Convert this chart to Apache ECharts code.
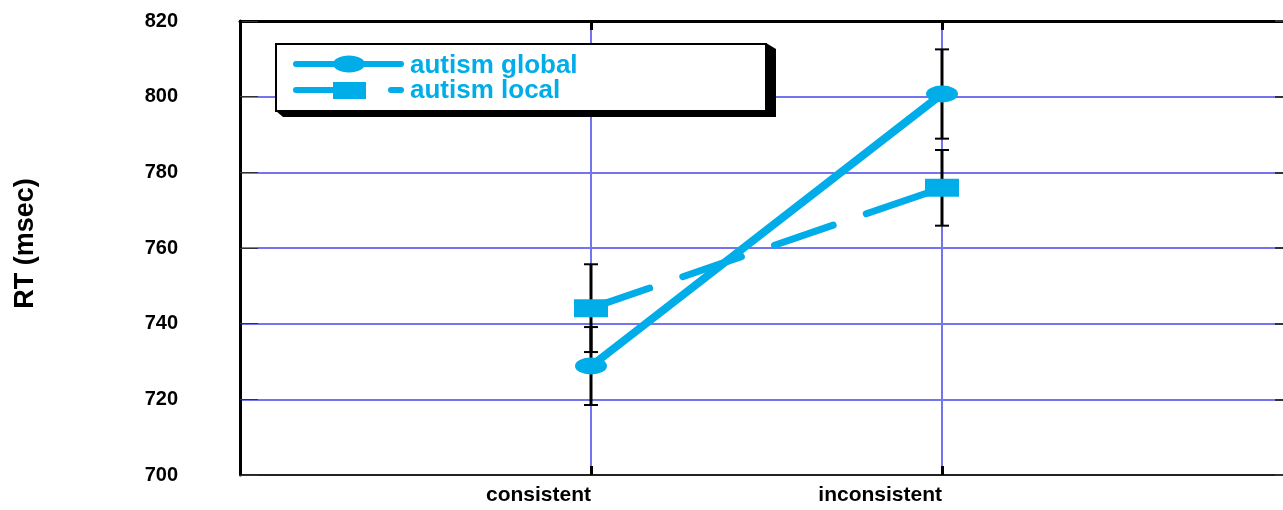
<!DOCTYPE html>
<html>
<head>
<meta charset="utf-8">
<script src="https://cdn.jsdelivr.net/npm/echarts@6/dist/echarts.min.js"></script>
<style>
	html, body { margin: 0; padding: 0; background: #fff; }
	#main { width: 1283px; height: 510px; }
</style>
</head>
<body>
<div id="main"></div>
<script>
// data
const conditions = ['consistent', 'inconsistent'];
const globalRT = [728.8, 800.7];
const globalErr = [10.3, 11.8];
const localRT = [744.1, 775.9];
const localErr = [11.6, 10.0];
const yMin = 700, yMax = 820, yStep = 20;

const CYAN = '#00ade9';
const GRID_BLUE = '#7474ee';
const FONT = 'Arial, "Liberation Sans", sans-serif';

// condition i sits at x = i + 1 on a 0..3 value axis
function points(values) {
	return values.map((v, i) => [i + 1, v]);
}
function errRows(values, errs) {
	return values.map((v, i) => [i + 1, v - errs[i], v + errs[i]]);
}

function renderErrorBar(params, api) {
	const x = api.value(0);
	const low = api.coord([x, api.value(1)]);
	const high = api.coord([x, api.value(2)]);
	const half = 7;
	return {
		type: 'group',
		children: [
			{ type: 'line', shape: { x1: low[0], y1: low[1], x2: high[0], y2: high[1] }, style: { stroke: '#000', lineWidth: 3 } },
			{ type: 'line', shape: { x1: low[0] - half, y1: low[1], x2: low[0] + half, y2: low[1] }, style: { stroke: '#000', lineWidth: 2 } },
			{ type: 'line', shape: { x1: high[0] - half, y1: high[1], x2: high[0] + half, y2: high[1] }, style: { stroke: '#000', lineWidth: 2 } }
		]
	};
}

const chart = echarts.init(document.getElementById('main'));

chart.setOption({
	animation: false,
	// plot runs past the right edge of the canvas, like the original
	grid: { left: 240, top: 21, width: 1053, height: 454, outerBoundsMode: 'none', containLabel: false },
	xAxis: [{
		type: 'value',
		min: 0, max: 3, interval: 1,
		position: 'bottom',
		axisLine: { show: true, onZero: false, lineStyle: { color: '#222', width: 2 } },
		axisTick: { show: true, inside: true, length: 9, lineStyle: { color: '#000', width: 3 } },
		axisLabel: {
			formatter: v => conditions[v - 1] || '',
			align: 'right',
			margin: 10,
			color: '#000',
			fontFamily: FONT,
			fontWeight: 'bold',
			fontSize: 21
		},
		splitLine: { show: true, lineStyle: { color: GRID_BLUE, width: 2 } }
	}, {
		type: 'value',
		min: 0, max: 3, interval: 1,
		position: 'top',
		axisLine: { show: true, onZero: false, lineStyle: { color: '#000', width: 3 } },
		axisTick: { show: true, inside: true, length: 9, lineStyle: { color: '#000', width: 3 } },
		axisLabel: { show: false },
		splitLine: { show: false }
	}],
	yAxis: [{
		type: 'value',
		min: yMin, max: yMax, interval: yStep,
		position: 'left',
		name: 'RT (msec)',
		nameLocation: 'middle',
		nameRotate: 90,
		nameGap: 201,
		nameTextStyle: { color: '#000', fontFamily: FONT, fontWeight: 'bold', fontSize: 27, padding: [0, 0, 0, 9] },
		axisLine: { show: true, onZero: false, lineStyle: { color: '#000', width: 3 } },
		axisTick: { show: true, inside: true, length: 18, lineStyle: { color: '#333', width: 1 } },
		axisLabel: {
			margin: 62,
			color: '#000',
			fontFamily: FONT,
			fontWeight: 'bold',
			fontSize: 20
		},
		splitLine: { show: true, lineStyle: { color: GRID_BLUE, width: 2 } }
	}, {
		type: 'value',
		min: yMin, max: yMax, interval: yStep,
		position: 'right',
		axisLine: { show: false, onZero: false },
		axisTick: { show: true, inside: true, length: 18, lineStyle: { color: '#333', width: 2 } },
		axisLabel: { show: false },
		splitLine: { show: false }
	}],
	series: [{
		name: 'global err',
		type: 'custom',
		renderItem: renderErrorBar,
		encode: { x: 0, y: [1, 2] },
		data: errRows(globalRT, globalErr),
		z: 1
	}, {
		name: 'local err',
		type: 'custom',
		renderItem: renderErrorBar,
		encode: { x: 0, y: [1, 2] },
		data: errRows(localRT, localErr),
		z: 1
	}, {
		name: 'autism global',
		type: 'line',
		data: points(globalRT),
		symbol: 'circle',
		symbolSize: [32, 17],
		itemStyle: { color: CYAN },
		lineStyle: { color: CYAN, width: 8, cap: 'round' },
		z: 3
	}, {
		name: 'autism local',
		type: 'line',
		data: points(localRT),
		symbol: 'rect',
		symbolSize: [34, 18],
		itemStyle: { color: CYAN },
		lineStyle: { color: CYAN, width: 7, type: [62, 35], cap: 'round' },
		z: 3
	}],
	// legend box drawn by hand to get the drop shadow
	graphic: [
		{ type: 'polygon', shape: { points: [[276, 111], [283, 117], [776, 117], [776, 49], [766, 43]] }, style: { fill: '#000' }, z: 10 },
		{ type: 'rect', shape: { x: 276, y: 44, width: 490, height: 67 }, style: { fill: '#fff', stroke: '#000', lineWidth: 2 }, z: 11 },
		{ type: 'line', shape: { x1: 296, y1: 64, x2: 401, y2: 64 }, style: { stroke: CYAN, lineWidth: 6, lineCap: 'round' }, z: 12 },
		{ type: 'ellipse', shape: { cx: 349, cy: 64, rx: 16, ry: 8.5 }, style: { fill: CYAN }, z: 12 },
		{ type: 'line', shape: { x1: 296, y1: 90, x2: 334, y2: 90 }, style: { stroke: CYAN, lineWidth: 6, lineCap: 'round' }, z: 12 },
		{ type: 'rect', shape: { x: 333, y: 82, width: 33, height: 17 }, style: { fill: CYAN }, z: 12 },
		{ type: 'line', shape: { x1: 391, y1: 90, x2: 401, y2: 90 }, style: { stroke: CYAN, lineWidth: 6, lineCap: 'round' }, z: 12 },
		{ type: 'text', x: 410, y: 66, style: { text: 'autism global', fill: CYAN, font: 'bold 26px ' + FONT, textVerticalAlign: 'middle' }, z: 12 },
		{ type: 'text', x: 410, y: 91, style: { text: 'autism local', fill: CYAN, font: 'bold 26px ' + FONT, textVerticalAlign: 'middle' }, z: 12 }
	]
});
</script>
</body>
</html>
